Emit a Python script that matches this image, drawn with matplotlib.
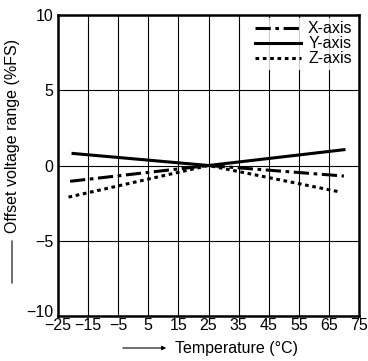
import matplotlib.pyplot as plt
import matplotlib.transforms as mtransforms

plt.rcParams['font.family'] = ['Liberation Sans', 'DejaVu Sans']

# data
temp_x = [-21, 25, 70]
x_axis = [-1.05, 0.0, -0.7]
temp_y = [-20, 25, 70]
y_axis = [0.8, 0.0, 1.05]
temp_z = [-21.5, 25, 68.5]
z_axis = [-2.1, 0.0, -1.75]

xticks = [-25, -15, -5, 5, 15, 25, 35, 45, 55, 65, 75]
yticks = [-10, -5, 0, 5, 10]

fig = plt.figure(figsize=(3.68, 3.61), dpi=100)
ax = fig.add_axes([58 / 368, 45 / 361, 301 / 368, 301 / 361])

ax.plot(temp_x, x_axis, color='black', lw=2.2, linestyle=(0, (5, 1.5, 1.2, 1.5)), label='X-axis')
ax.plot(temp_y, y_axis, color='black', lw=2.2, label='Y-axis')
ax.plot(temp_z, z_axis, color='black', lw=2.2, linestyle=(0, (1.2, 1.2)), label='Z-axis')

ax.set_xlim(-25, 75)
ax.set_ylim(-10, 10)
ax.set_xticks(xticks)
ax.set_xticklabels([str(t).replace('-', '\u2212') for t in xticks])
ax.set_yticks(yticks)
ax.set_yticklabels([str(t).replace('-', '\u2212') for t in yticks])
ax.tick_params(length=0, labelsize=11.5)
ax.tick_params(axis='x', pad=1.5)
ax.tick_params(axis='y', pad=3.5)
ax.grid(True, color='black', lw=0.8)
ax.set_axisbelow(True)
for s in ax.spines.values():
    s.set_linewidth(1.8)

# lift the -10 label a little, as in the reference
lab = ax.get_yticklabels()[0]
lab.set_transform(lab.get_transform() + mtransforms.ScaledTranslation(0, 5 / 100, fig.dpi_scale_trans))

leg = ax.legend(loc='upper right', frameon=True, fancybox=False, fontsize=11.5,
                handlelength=2.9, handletextpad=0.45, labelspacing=0.0,
                borderpad=0.2, borderaxespad=0.2, edgecolor='white')
leg.get_frame().set_linewidth(0)

# axis labels with arrows
fig.text(175 / 368, 1 - 348 / 361, 'Temperature (\u00b0C)', fontsize=11.5, va='center', ha='left')
ax.annotate('', xy=(169 / 368, 1 - 348 / 361), xytext=(120 / 368, 1 - 348 / 361),
            xycoords='figure fraction',
            arrowprops=dict(arrowstyle='-|>', color='black', lw=0.8, mutation_scale=6))
fig.text(13 / 368, 1 - 233 / 361, 'Offset voltage range (%FS)', fontsize=11.5, rotation=90,
         va='bottom', ha='center')
ax.annotate('', xy=(12 / 368, 1 - 238 / 361), xytext=(12 / 368, 1 - 286 / 361),
            xycoords='figure fraction',
            arrowprops=dict(arrowstyle='-', color='black', lw=0.8))

fig.savefig('out.png', dpi=100)
